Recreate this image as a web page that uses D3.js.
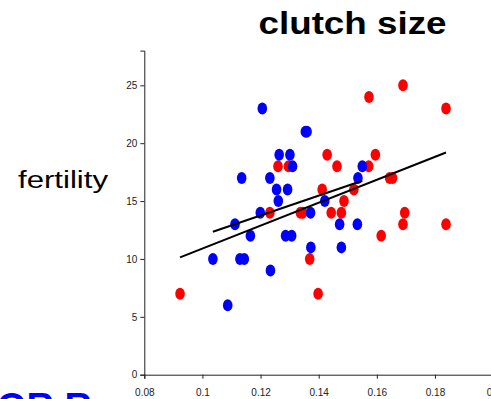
<!DOCTYPE html>
<html>
<head>
<meta charset="utf-8">
<script src="https://cdn.jsdelivr.net/npm/d3@7"></script>
<style>
  html, body { margin: 0; padding: 0; background: #fff; overflow: hidden; }
  svg { display: block; }
</style>
</head>
<body>
<svg id="chart" width="491" height="399"></svg>
<script>
// Fertility against clutch size, two groups plus two fitted lines
const redX  = [0.0923, 0.1232, 0.1260, 0.1296, 0.1337, 0.1345, 0.1369, 0.1398, 0.1412, 0.1429,
               0.1443, 0.1463, 0.1478, 0.1487, 0.1521, 0.1572, 0.1573, 0.1595, 0.1615, 0.1644,
               0.1654, 0.1690, 0.1690, 0.1696, 0.1838, 0.1838];
const redY  = [7, 14, 18, 18, 14, 14, 10, 7, 16, 19,
               14, 18, 14, 15, 16, 18, 24, 19, 12, 17,
               17, 25, 13, 14, 23, 13];

const blueX = [0.1036, 0.1087, 0.1112, 0.1135, 0.1129, 0.1144, 0.1165, 0.1199, 0.1206, 0.1232,
               0.1234, 0.1255, 0.1261, 0.1264, 0.1293, 0.1286, 0.1301, 0.1307, 0.1310, 0.1354,
               0.1360, 0.1372, 0.1373, 0.1421, 0.1472, 0.1478, 0.1533, 0.1535, 0.1550];
const blueY = [10, 6, 13, 17, 10, 10, 12, 14, 23, 17,
               9, 16, 15, 19, 16, 12, 19, 12, 18, 21,
               21, 14, 11, 15, 13, 11, 13, 17, 18];

// fitted lines (end points)
const fitAllX  = [0.0923, 0.1838];
const fitAllY  = [10.14, 19.2];
const fitBlueX = [0.1036, 0.1550];
const fitBlueY = [12.35, 16.75];

const xTicks = [0.08, 0.10, 0.12, 0.14, 0.16, 0.18, 0.20];
const yTicks = [0, 5, 10, 15, 20, 25];

const titleText = "clutch size";
const yLabelText = "fertility";
const cornerText = "OR R";

const svg = d3.select("#chart");

const x = d3.scaleLinear().domain([0.08, 0.20]).range([144.3, 493.1]);
const y = d3.scaleLinear().domain([0, 28]).range([374.7, 50.6]);

// axes
const xAxis = svg.append("g")
  .attr("transform", `translate(0,${y(0)})`)
  .call(d3.axisBottom(x).tickValues(xTicks).tickSizeOuter(0).tickSize(4)
        .tickFormat(d => String(+d.toFixed(2))));
const yAxis = svg.append("g")
  .attr("transform", `translate(${x(0.08)},0)`)
  .call(d3.axisLeft(y).tickValues(yTicks).tickSizeOuter(0).tickSize(4));

[xAxis, yAxis].forEach(g => {
  g.selectAll("path.domain").attr("stroke", "#222").attr("stroke-width", 1);
  g.selectAll(".tick line").attr("stroke", "#222");
  g.selectAll(".tick text")
    .attr("font-family", "Liberation Sans, Arial, sans-serif")
    .attr("font-size", 10)
    .attr("fill", "#222");
});
xAxis.selectAll(".tick text").attr("dy", "0.95em").attr("y", 12);
yAxis.selectAll(".tick text").attr("x", -7);

// points
const pts = svg.append("g");
const drawGroup = (xs, ys, color) => {
  pts.selectAll(null)
    .data(xs.map((v, i) => [v, ys[i]]))
    .join("ellipse")
    .attr("cx", d => x(d[0]))
    .attr("cy", d => y(d[1]))
    .attr("rx", 4.8)
    .attr("ry", 6)
    .attr("fill", color);
};
drawGroup(redX, redY, "#ff0000");
drawGroup(blueX, blueY, "#0000ff");

// fitted lines
const line = d3.line().x(d => x(d[0])).y(d => y(d[1]));
[[fitAllX, fitAllY], [fitBlueX, fitBlueY]].forEach(([xs, ys]) => {
  svg.append("path")
    .attr("d", line(xs.map((v, i) => [v, ys[i]])))
    .attr("fill", "none")
    .attr("stroke", "#000")
    .attr("stroke-width", 2);
});

// texts
svg.append("text")
  .attr("x", 352.5).attr("y", 34)
  .attr("text-anchor", "middle")
  .attr("font-family", "Liberation Sans, Arial, sans-serif")
  .attr("font-weight", "bold")
  .attr("font-size", 31)
  .attr("textLength", 188)
  .attr("lengthAdjust", "spacingAndGlyphs")
  .text(titleText);

svg.append("text")
  .attr("x", 63).attr("y", 188)
  .attr("text-anchor", "middle")
  .attr("font-family", "Liberation Sans, Arial, sans-serif")
  .attr("font-size", 23)
  .attr("textLength", 90)
  .attr("lengthAdjust", "spacingAndGlyphs")
  .text(yLabelText);

svg.append("text")
  .attr("x", -3).attr("y", 420)
  .attr("font-family", "Liberation Sans, Arial, sans-serif")
  .attr("font-weight", "bold")
  .attr("font-size", 38)
  .attr("fill", "#0000ff")
  .text(cornerText);
</script>
</body>
</html>
